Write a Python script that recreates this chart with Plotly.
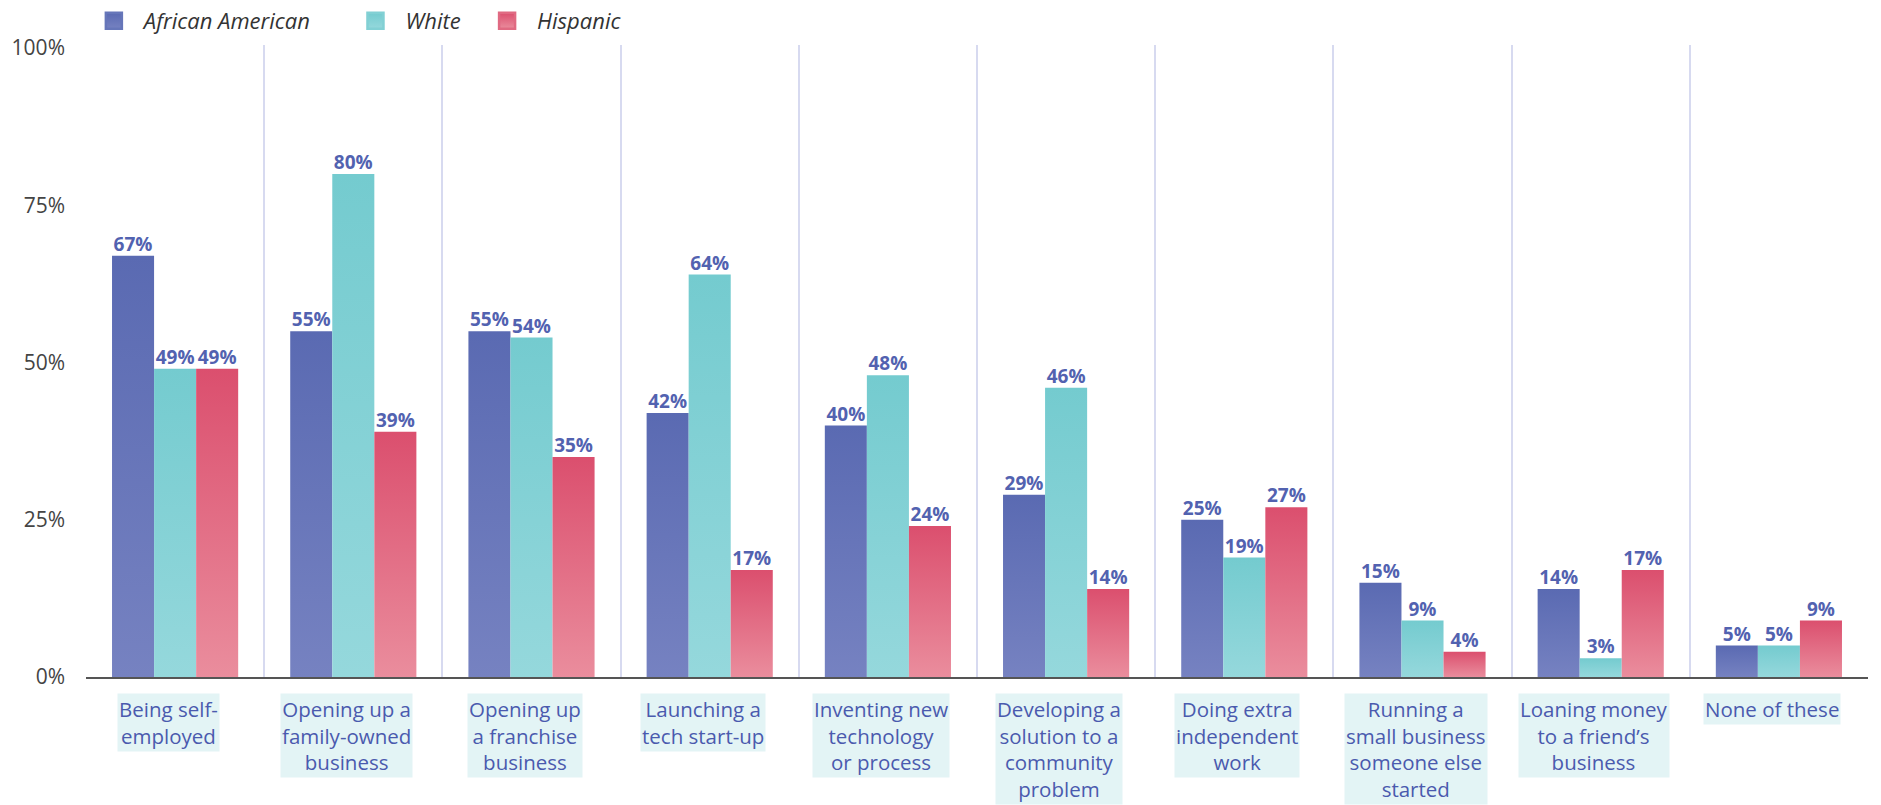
import plotly.graph_objects as go

# Survey: share of respondents interested in each entrepreneurial activity
categories = [
    "Being self-<br>employed",
    "Opening up a<br>family-owned<br>business",
    "Opening up<br>a franchise<br>business",
    "Launching a<br>tech start-up",
    "Inventing new<br>technology<br>or process",
    "Developing a<br>solution to a<br>community<br>problem",
    "Doing extra<br>independent<br>work",
    "Running a<br>small business<br>someone else<br>started",
    "Loaning money<br>to a friend\u2019s<br>business",
    "None of these",
]
african_american = [67, 55, 55, 42, 40, 29, 25, 15, 14, 5]
white = [49, 80, 54, 64, 48, 46, 19, 9, 3, 5]
hispanic = [49, 39, 35, 17, 24, 14, 27, 4, 17, 9]
y_ticks = [0, 25, 50, 75, 100]

# name, values, gradient top, gradient bottom, legend outline, legend padding
series = [
    ("African American", african_american, "#5a6ab2", "#7682c1", "#6676b9", 5),
    ("White", white, "#74cbcf", "#95d8dc", "#82d0d4", 2),
    ("Hispanic", hispanic, "#db4f6e", "#ea8d9d", "#e06a82", 0),
]

FONT = "Open Sans"
LABEL_BLUE = "#5262b0"
BAR_W = 0.236
n_series = len(series)
NBSP = "\u00a0"

fig = go.Figure()

for s_idx, (name, values, top_col, bottom_col, mid_col, pad) in enumerate(series):
    offset = (s_idx - (n_series - 1) / 2) * BAR_W
    # one filled rectangle per bar so each gets its own vertical gradient
    for c_idx, v in enumerate(values):
        x0 = c_idx + offset - BAR_W / 2
        x1 = c_idx + offset + BAR_W / 2
        fig.add_trace(go.Scatter(
            x=[x0, x0, x1, x1, x0],
            y=[0, v, v, 0, 0],
            mode="lines",
            fill="toself",
            line=dict(width=0),
            fillgradient=dict(
                type="vertical",
                colorscale=[[0, bottom_col], [1, top_col]],
                start=0,
                stop=v,
            ),
            hoverinfo="skip",
            showlegend=False,
        ))
    # value labels above the bars
    fig.add_trace(go.Scatter(
        x=[i + offset for i in range(len(values))],
        y=values,
        mode="text",
        text=[f"{v}%" for v in values],
        textposition="top center",
        textfont=dict(family=FONT, size=19, color=LABEL_BLUE, weight="bold"),
        hoverinfo="skip",
        showlegend=False,
    ))
    # legend entry (trailing spaces widen the gap to the next entry)
    fig.add_trace(go.Scatter(
        x=[None],
        y=[None],
        mode="markers",
        name=name + NBSP * pad,
        marker=dict(
            symbol="square",
            size=16,
            color=top_col,
            gradient=dict(type="vertical", color=bottom_col),
            line=dict(width=2.5, color=mid_col),
        ),
    ))

# category labels on light boxes under the axis
for i, label in enumerate(categories):
    fig.add_annotation(
        x=i,
        y=0,
        xref="x",
        yref="y",
        text=label,
        showarrow=False,
        yanchor="top",
        xanchor="center",
        xshift=-7,
        yshift=-16,
        align="center",
        font=dict(family=FONT, size=20.5, color="#4a5aae"),
        bgcolor="#e3f4f5",
        borderpad=1,
    )

n_cat = len(categories)
fig.update_layout(
    width=1881,
    height=805,
    margin=dict(l=86, r=13, t=45, b=128, autoexpand=False),
    plot_bgcolor="white",
    paper_bgcolor="white",
    showlegend=True,
    legend=dict(
        orientation="h",
        x=-0.0012,
        xanchor="left",
        y=1.0,
        yanchor="top",
        yref="container",
        font=dict(family=FONT, size=22, color="#333333", style="italic"),
        itemwidth=50,
        tracegroupgap=0,
        bgcolor="rgba(0,0,0,0)",
    ),
    xaxis=dict(
        range=[-0.5, n_cat - 0.5],
        tickvals=[i - 0.5 for i in range(n_cat + 1)],
        showticklabels=False,
        showgrid=True,
        gridcolor="#d7daf0",
        gridwidth=1.5,
        zeroline=False,
        showline=True,
        linecolor="#555555",
        linewidth=2,
        ticks="",
        fixedrange=True,
    ),
    yaxis=dict(
        range=[0, 100.5],
        tickvals=y_ticks,
        ticktext=[f"{t}%" for t in y_ticks],
        showgrid=False,
        zeroline=False,
        showline=False,
        ticks="",
        ticklabelstandoff=20,
        tickfont=dict(family=FONT, size=21, color="#444444"),
        fixedrange=True,
    ),
)

fig.write_html("out.html")
